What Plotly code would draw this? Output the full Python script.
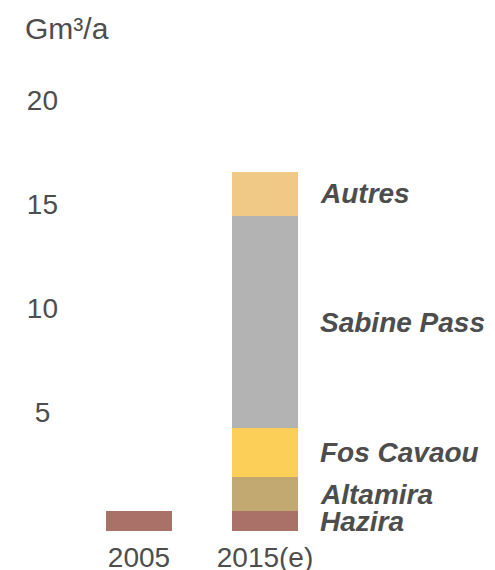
import plotly.graph_objects as go

categories = ["2005", "2015(e)"]
series_names = ["Hazira", "Altamira", "Fos Cavaou", "Sabine Pass", "Autres"]
hazira = [0.94, 0.94]
altamira = [0, 1.64]
fos_cavaou = [0, 2.35]
sabine_pass = [0, 10.2]
autres = [0, 2.15]
series_values = [hazira, altamira, fos_cavaou, sabine_pass, autres]
colors = ["#A97167", "#C1A971", "#FCCF59", "#B3B3B3", "#F0C987"]
tick_vals = [5, 10, 15, 20]
tick_text = ["5\u00a0", "10", "15", "20"]
unit_label = "Gm³/a"

FONT = "Arial, Liberation Sans, sans-serif"
TXT = "#4d4d4d"

W, H = 487, 562  # page body adds an 8px offset

xpos = list(range(len(categories)))

fig = go.Figure()
for name, vals, col in zip(series_names, series_values, colors):
    fig.add_trace(go.Bar(x=xpos, y=vals, name=name, width=0.53,
                         marker=dict(color=col, line=dict(width=0)),
                         showlegend=False))

# segment labels for the 2015 bar
annos = []
base = 0
for name, vals in zip(series_names, series_values):
    v = vals[1]
    annos.append(dict(x=xpos[1], y=base + v / 2, xref="x", yref="y", text=name,
                      showarrow=False, xanchor="left", yanchor="middle", xshift=53,
                      font=dict(family=FONT, size=28, color=TXT, weight="bold", style="italic")))
    base += v

fig.update_layout(
    width=W, height=H,
    margin=dict(l=68, r=167, t=65, b=39),
    barmode="stack",
    paper_bgcolor="white", plot_bgcolor="white",
    title=dict(text=unit_label, x=17 / W, xanchor="left", y=1 - 20 / H, yanchor="middle",
               xref="container", yref="container", font=dict(family=FONT, size=30, color=TXT)),
    annotations=annos,
    xaxis=dict(type="linear", range=[-0.5, 1.5], tickvals=xpos, ticktext=categories,
               showgrid=False, zeroline=False, showline=False, ticks="",
               automargin=False, ticklabelstandoff=7,
               tickfont=dict(family=FONT, size=28, color=TXT)),
    yaxis=dict(type="linear", range=[0, 22.02], showgrid=False, zeroline=False, showline=False, ticks="",
               automargin=False,
               tickvals=tick_vals, ticktext=tick_text, ticklabelposition="outside",
               ticklabelstandoff=17, ticklabelshift=-15,
               tickfont=dict(family=FONT, size=28, color=TXT)),
)
fig.update_traces(cliponaxis=False)
fig.write_html("out.html")
